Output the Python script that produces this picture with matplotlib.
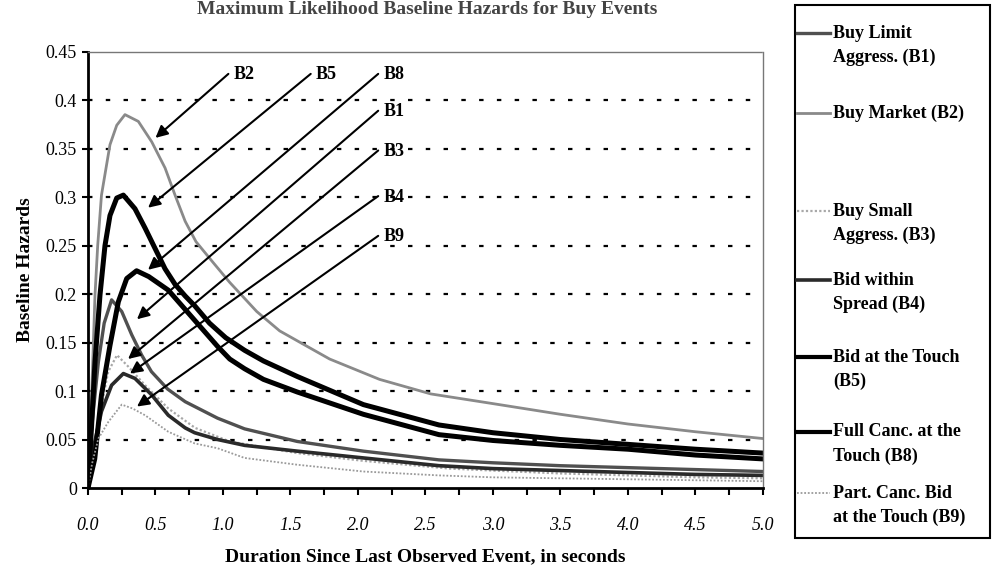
import matplotlib.pyplot as plt
from matplotlib.lines import Line2D
from matplotlib.patches import Rectangle
import numpy as np

plt.rcParams['font.family'] = ['Liberation Serif', 'DejaVu Serif']

# ---- data ----
t_b2 = [0, 0.027, 0.052, 0.072, 0.1, 0.163, 0.213, 0.274, 0.373, 0.472, 0.571, 0.645, 0.72, 0.8, 0.93, 1.05, 1.15,
        1.25, 1.42, 1.79, 2.16, 2.54, 3.0, 3.5, 4.0, 4.5, 5.0]
h_b2 = [0, 0.096, 0.199, 0.25, 0.302, 0.354, 0.374, 0.385, 0.378, 0.357, 0.33, 0.302, 0.275, 0.254, 0.232, 0.212, 0.197,
        0.182, 0.162, 0.133, 0.112, 0.097, 0.087, 0.076, 0.066, 0.058, 0.051]

t_b5 = [0, 0.025, 0.052, 0.089, 0.126, 0.163, 0.213, 0.262, 0.348, 0.423, 0.497, 0.571, 0.645, 0.72, 0.79, 0.9, 1.02,
        1.16, 1.3, 1.55, 2.04, 2.6, 3.0, 3.5, 4.0, 4.5, 5.0]
h_b5 = [0, 0.06, 0.13, 0.199, 0.25, 0.281, 0.299, 0.302, 0.288, 0.268, 0.247, 0.226, 0.21, 0.198, 0.188, 0.17, 0.155,
        0.142, 0.131, 0.115, 0.086, 0.065, 0.057, 0.050, 0.045, 0.040, 0.036]

t_b8 = [0, 0.05, 0.1, 0.163, 0.225, 0.287, 0.36, 0.45, 0.595, 0.79, 0.96, 1.05, 1.16, 1.3, 1.55, 2.04, 2.6, 3.0, 3.5,
        4.0, 4.5, 5.0]
h_b8 = [0, 0.03, 0.096, 0.147, 0.192, 0.216, 0.224, 0.218, 0.204, 0.173, 0.146, 0.133, 0.123, 0.112, 0.099, 0.076,
        0.055, 0.049, 0.044, 0.040, 0.034, 0.030]

t_b1 = [0, 0.027, 0.077, 0.12, 0.175, 0.25, 0.324, 0.398, 0.47, 0.59, 0.72, 0.96, 1.16, 1.55, 2.04, 2.6, 3.0, 3.5, 4.0,
        4.5, 5.0]
h_b1 = [0, 0.062, 0.13, 0.17, 0.194, 0.182, 0.158, 0.137, 0.12, 0.102, 0.089, 0.072, 0.061, 0.048, 0.038, 0.029, 0.026,
        0.023, 0.021, 0.019, 0.017]

t_b3 = [0, 0.05, 0.1, 0.15, 0.215, 0.3, 0.423, 0.595, 0.793, 1.05, 1.55, 2.04, 2.68, 3.0, 3.5, 4.0, 4.5, 5.0]
h_b3 = [0, 0.04, 0.085, 0.12, 0.137, 0.125, 0.106, 0.082, 0.062, 0.048, 0.036, 0.028, 0.02, 0.018, 0.015, 0.013, 0.011,
        0.010]

t_b4 = [0, 0.04, 0.1, 0.175, 0.262, 0.348, 0.472, 0.595, 0.72, 0.79, 0.96, 1.16, 1.55, 2.04, 2.6, 3.0, 3.5, 4.0, 4.5, 5.0]
h_b4 = [0, 0.041, 0.079, 0.106, 0.118, 0.113, 0.096, 0.075, 0.062, 0.057, 0.05, 0.044, 0.038, 0.031, 0.023, 0.020,
        0.018, 0.016, 0.014, 0.013]

t_b9 = [0, 0.03, 0.077, 0.15, 0.25, 0.33, 0.423, 0.595, 0.79, 0.96, 1.16, 1.55, 2.04, 2.6, 3.0, 3.5, 4.0, 4.5, 5.0]
h_b9 = [0, 0.025, 0.051, 0.068, 0.086, 0.082, 0.075, 0.058, 0.046, 0.041, 0.031, 0.024, 0.017, 0.013, 0.011, 0.010,
        0.009, 0.008, 0.007]

legend_labels = ['Buy Limit\nAggress. (B1)', 'Buy Market (B2)', 'Buy Small\nAggress. (B3)',
                 'Bid within\nSpread (B4)', 'Bid at the Touch\n(B5)', 'Full Canc. at the\nTouch (B8)',
                 'Part. Canc. Bid\nat the Touch (B9)']
yticks = [0, 0.05, 0.1, 0.15, 0.2, 0.25, 0.3, 0.35, 0.4, 0.45]
ytick_labels = ['0', '0.05', '0.1', '0.15', '0.2', '0.25', '0.3', '0.35', '0.4', '0.45']
xticks = np.arange(0, 5.01, 0.25)
xtick_labels = ['%.1f' % v if i % 2 == 0 else '' for i, v in enumerate(xticks)]

series = [(t_b1, h_b1), (t_b2, h_b2), (t_b3, h_b3), (t_b4, h_b4), (t_b5, h_b5), (t_b8, h_b8), (t_b9, h_b9)]
styles = [dict(color='#505050', lw=2.4, ls='-'),
          dict(color='#8a8a8a', lw=2.0, ls='-'),
          dict(color='#a8a8a8', lw=1.6, ls=(0, (1, 1))),
          dict(color='#2a2a2a', lw=2.6, ls='-'),
          dict(color='black', lw=3.6, ls='-'),
          dict(color='black', lw=3.6, ls='-'),
          dict(color='#9a9a9a', lw=1.3, ls=(0, (1, 1)))]

fig = plt.figure(figsize=(9.93, 5.75), dpi=100)
ax = fig.add_axes([0.0886, 0.1513, 0.6797, 0.759])

for (t, h), st in zip(series, styles):
    ax.plot(t, h, solid_capstyle='round', solid_joinstyle='round', **st)

ax.set_xlim(0, 5)
ax.set_ylim(0, 0.45)
ax.set_yticks(yticks)
ax.set_yticklabels(ytick_labels)
ax.set_xticks(xticks)
ax.set_xticklabels(xtick_labels)
for y in yticks[1:-1]:
    ax.axhline(y, color='black', lw=1.6, ls=(0, (2, 6)), zorder=0)

ax.spines['left'].set_linewidth(2)
ax.spines['bottom'].set_linewidth(2)
for s in ['top', 'right']:
    ax.spines[s].set_color('#777777')
    ax.spines[s].set_linestyle((0, (2, 1)))
    ax.spines[s].set_linewidth(1)
ax.tick_params(axis='y', labelsize=13, length=4, width=1.5, pad=4)
ax.tick_params(axis='x', labelsize=13, length=5, width=1.5, pad=16)
for lab in ax.get_xticklabels():
    lab.set_fontstyle('italic')

ax.set_xlabel('Duration Since Last Observed Event, in seconds', fontsize=14, fontweight='bold', labelpad=10)
ax.set_ylabel('Baseline Hazards', fontsize=14, fontweight='bold', labelpad=8)

# arrows pointing at the curves
arrow = dict(arrowstyle='-|>', color='black', lw=1.5, mutation_scale=18, shrinkA=0, shrinkB=0)
notes = [('B2', (0.50, 0.361), (1.04, 0.427)),
         ('B5', (0.445, 0.289), (1.65, 0.427)),
         ('B8', (0.445, 0.225), (2.15, 0.427)),
         ('B1', (0.363, 0.174), (2.15, 0.389)),
         ('B3', (0.297, 0.133), (2.15, 0.348)),
         ('B4', (0.311, 0.118), (2.15, 0.301)),
         ('B9', (0.363, 0.084), (2.15, 0.260))]
for name, head, tail in notes:
    ax.annotate('', xy=head, xytext=tail, arrowprops=arrow)
    ax.text(tail[0] + 0.04, tail[1] - 0.001, name, fontsize=13, fontweight='bold', va='center', ha='left')

# title at the very top
fig.text(0.43, 0.998, 'Maximum Likelihood Baseline Hazards for Buy Events', fontsize=14,
         fontweight='bold', ha='center', va='top', color='#444444')

# hand-drawn legend box
fig.add_artist(Rectangle((0.8006, 0.0643), 0.1964, 0.927, transform=fig.transFigure,
                         fill=False, edgecolor='black', lw=1.5))
first_line_px = [33, 113, 211, 280, 357, 432, 493]
for lab, st, ypx in zip(legend_labels, styles, first_line_px):
    yf = 1 - ypx / 575
    fig.add_artist(Line2D([0.803, 0.836], [yf, yf], transform=fig.transFigure,
                          color=st['color'], lw=min(st['lw'], 3), ls=st['ls']))
    for i, line in enumerate(lab.split('\n')):
        fig.text(0.839, 1 - (ypx + 24 * i) / 575, line, fontsize=13, fontweight='bold',
                 va='center', ha='left')

plt.savefig('out.png', dpi=100)
